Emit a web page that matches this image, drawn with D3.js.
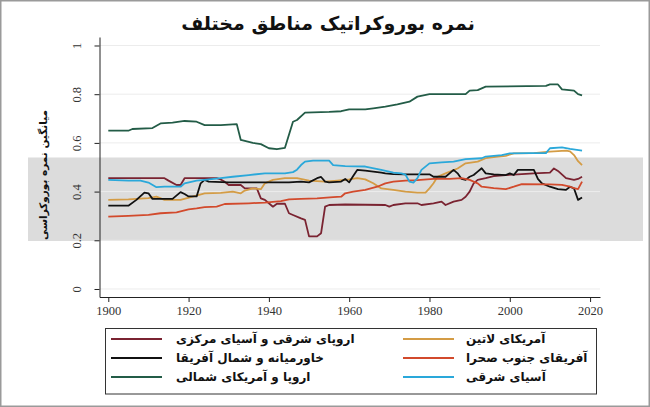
<!DOCTYPE html>
<html>
<head>
<meta charset="utf-8">
<script src="https://cdn.jsdelivr.net/npm/d3@7"></script>
<style>
  html, body { margin: 0; padding: 0; background: #fff; }
  svg { display: block; }
</style>
</head>
<body>
<svg id="chart" width="650" height="407"></svg>
<script>
// ---------- DATA ----------
const titleText = "نمره بوروکراتیک مناطق مختلف";
const yTitle = "میانگین نمره بوروکراسی";
const yTicks = [0, 0.2, 0.4, 0.6, 0.8, 1];
const yTickLabels = ["0", "0.2", "0.4", "0.6", "0.8", "1"];
const xTicks = [1900, 1920, 1940, 1960, 1980, 2000, 2020];
const xTickLabels = ["1900", "1920", "1940", "1960", "1980", "2000", "2020"];

const seriesNames = [
  "اروپای شرقی و آسیای مرکزی",
  "آمریکای لاتین",
  "خاورمیانه و شمال آفریقا",
  "آفریقای جنوب صحرا",
  "اروپا و آمریکای شمالی",
  "آسیای شرقی"
];
const seriesColors = ["#7a2331", "#d49c45", "#111111", "#d24a2c", "#235c47", "#2aa8da"];

const easternEurope = [[1900,.455],[1914,.455],[1915,.445],[1917,.427],[1918,.427],[1919,.455],[1927,.455],[1928,.45],[1929,.44],[1930,.427],[1933,.427],[1934,.413],[1937,.413],[1938,.372],[1939,.366],[1940,.352],[1941,.338],[1942,.350],[1944,.350],[1945,.311],[1946,.304],[1948,.29],[1949,.284],[1950,.216],[1952,.216],[1953,.229],[1954,.338],[1955,.345],[1959,.347],[1969,.345],[1970,.338],[1971,.345],[1974,.352],[1977,.352],[1978,.345],[1981,.352],[1983,.359],[1984,.345],[1986,.359],[1988,.366],[1989,.379],[1990,.40],[1991,.434],[1992,.448],[1994,.455],[1996,.464],[1999,.468],[2002,.471],[2006,.475],[2010,.478],[2011,.495],[2012,.485],[2014,.455],[2016,.448],[2017,.452],[2018,.461]];
const latinAmerica = [[1900,.366],[1905,.368],[1910,.373],[1912,.379],[1914,.366],[1918,.366],[1921,.379],[1924,.393],[1928,.395],[1931,.40],[1933,.393],[1934,.404],[1936,.413],[1938,.41],[1939,.434],[1941,.448],[1944,.455],[1947,.455],[1950,.445],[1954,.441],[1957,.445],[1960,.45],[1962,.455],[1964,.45],[1966,.434],[1968,.413],[1971,.407],[1974,.40],[1977,.396],[1979,.396],[1980,.413],[1981,.434],[1982,.461],[1984,.475],[1987,.495],[1989,.516],[1992,.523],[1994,.537],[1996,.542],[1999,.547],[2001,.557],[2006,.558],[2010,.564],[2014,.568],[2015,.565],[2016,.55],[2017,.525],[2018,.509]];
const middleEast = [[1900,.342],[1905,.342],[1907,.366],[1909,.396],[1910,.393],[1911,.370],[1916,.370],[1918,.398],[1919,.39],[1920,.38],[1922,.38],[1923,.434],[1924,.448],[1925,.441],[1930,.438],[1935,.438],[1940,.438],[1945,.438],[1948,.441],[1950,.438],[1952,.455],[1953,.46],[1954,.441],[1955,.438],[1958,.441],[1959,.452],[1960,.438],[1961,.464],[1962,.489],[1964,.486],[1966,.482],[1968,.478],[1969,.475],[1971,.472],[1974,.471],[1980,.471],[1981,.461],[1984,.461],[1985,.475],[1986,.489],[1987,.475],[1988,.452],[1989,.448],[1990,.461],[1991,.468],[1992,.482],[1993,.496],[1994,.475],[1996,.471],[1999,.468],[2000,.475],[2001,.468],[2002,.489],[2006,.489],[2007,.452],[2008,.434],[2010,.42],[2012,.41],[2014,.407],[2015,.42],[2016,.413],[2017,.366],[2018,.376]];
const subSaharan = [[1900,.297],[1905,.30],[1910,.304],[1913,.311],[1917,.315],[1920,.327],[1922,.331],[1924,.336],[1927,.338],[1929,.349],[1935,.352],[1939,.355],[1943,.361],[1945,.368],[1948,.370],[1952,.372],[1956,.377],[1958,.379],[1959,.393],[1961,.40],[1964,.407],[1967,.42],[1969,.434],[1971,.441],[1974,.445],[1977,.447],[1981,.452],[1985,.452],[1988,.455],[1990,.448],[1992,.434],[1993,.42],[1996,.414],[1999,.41],[2001,.42],[2003,.431],[2010,.43],[2013,.428],[2015,.42],[2016,.414],[2017,.41],[2018,.441]];
const europeNA = [[1900,.650],[1905,.650],[1906,.657],[1911,.661],[1913,.680],[1916,.683],[1919,.690],[1922,.687],[1924,.673],[1928,.673],[1932,.677],[1933,.612],[1936,.600],[1938,.595],[1940,.578],[1942,.574],[1944,.580],[1946,.687],[1947,.694],[1949,.724],[1955,.727],[1958,.730],[1960,.738],[1964,.738],[1966,.742],[1969,.749],[1972,.758],[1975,.769],[1977,.790],[1980,.800],[1989,.800],[1990,.815],[1992,.817],[1994,.831],[2009,.834],[2010,.840],[2012,.840],[2013,.820],[2016,.815],[2017,.800],[2018,.795]];
const eastAsia = [[1900,.448],[1905,.445],[1908,.445],[1910,.437],[1912,.418],[1914,.42],[1918,.42],[1919,.434],[1922,.445],[1924,.448],[1928,.455],[1931,.461],[1935,.468],[1939,.475],[1944,.475],[1946,.48],[1947,.49],[1948,.509],[1949,.523],[1951,.527],[1955,.527],[1956,.509],[1959,.505],[1964,.503],[1968,.489],[1971,.478],[1973,.475],[1974,.47],[1975,.441],[1976,.437],[1977,.455],[1978,.489],[1980,.516],[1983,.52],[1986,.523],[1989,.533],[1993,.537],[1994,.544],[1998,.55],[2000,.557],[2005,.558],[2009,.558],[2010,.578],[2013,.582],[2015,.575],[2018,.568]];

const allSeries = [easternEurope, latinAmerica, middleEast, subSaharan, europeNA, eastAsia];

// ---------- DRAW ----------
const svg = d3.select("#chart");
const W = 650, H = 407;
const persianFont = "'DejaVu Sans', 'Noto Sans', sans-serif";
const numFont = "'Liberation Serif', 'DejaVu Serif', serif";

// watermark band
svg.append("rect").attr("x", 28).attr("y", 157.5).attr("width", 615).attr("height", 83.5)
  .attr("fill", "#dcdcdc");

const x = d3.scaleLinear().domain([1897.81, 2022.47]).range([99.5, 600]);
const y = d3.scaleLinear().domain([-0.0329, 1.0349]).range([297, 37]);

// gridlines
svg.append("g").selectAll("line").data(yTicks).join("line")
  .attr("x1", 100).attr("x2", 600)
  .attr("y1", d => y(d)).attr("y2", d => y(d))
  .attr("stroke", "#ececec").attr("stroke-width", 1);

// y axis
const yAxis = svg.append("g").attr("transform", "translate(99.5,0)")
  .call(d3.axisLeft(y).tickValues(yTicks).tickSize(5).tickSizeOuter(0)
    .tickFormat((d, i) => yTickLabels[i]));
yAxis.select(".domain").attr("stroke", "#222");
yAxis.selectAll(".tick line").attr("stroke", "#222");
yAxis.selectAll(".tick text")
  .attr("x", null).attr("dy", null)
  .attr("transform", "translate(-19,0) rotate(-90)")
  .attr("text-anchor", "middle")
  .attr("font-family", numFont).attr("font-size", 12.5).attr("fill", "#333");

// x axis
const xAxis = svg.append("g").attr("transform", "translate(0,297)")
  .call(d3.axisBottom(x).tickValues(xTicks).tickSize(5).tickSizeOuter(0)
    .tickFormat((d, i) => xTickLabels[i]));
xAxis.select(".domain").attr("stroke", "#222");
xAxis.selectAll(".tick line").attr("stroke", "#222");
xAxis.selectAll(".tick text")
  .attr("y", 9).attr("dy", "0.71em")
  .attr("font-family", numFont).attr("font-size", 12.5).attr("fill", "#333");

// lines
const line = d3.line().x(d => x(d[0])).y(d => y(d[1])).curve(d3.curveLinear);
svg.append("g").selectAll("path").data(allSeries).join("path")
  .attr("d", line)
  .attr("fill", "none")
  .attr("stroke", (d, i) => seriesColors[i])
  .attr("stroke-width", 1.8)
  .attr("stroke-linejoin", "round");

// title
svg.append("text").attr("x", 328).attr("y", 30)
  .attr("text-anchor", "middle")
  .attr("font-family", persianFont).attr("font-weight", "bold")
  .attr("font-size", 19).attr("fill", "#111")
  .text(titleText);

// y title
svg.append("text")
  .attr("transform", "translate(47,175) rotate(-90)")
  .attr("text-anchor", "middle")
  .attr("font-family", persianFont).attr("font-weight", "bold")
  .attr("font-size", 10.5).attr("fill", "#111")
  .text(yTitle);

// legend
const lg = svg.append("g");
lg.append("rect").attr("x", 105.5).attr("y", 328.5).attr("width", 491).attr("height", 65.5)
  .attr("fill", "#fff").attr("stroke", "#333").attr("stroke-width", 1);
const rowsY = [339, 358, 377];
const colLineX = [111, 403];
const colTextX = [176, 466];
seriesNames.forEach((name, i) => {
  const col = i % 2, row = Math.floor(i / 2);
  lg.append("line")
    .attr("x1", colLineX[col]).attr("x2", colLineX[col] + 51)
    .attr("y1", rowsY[row]).attr("y2", rowsY[row])
    .attr("stroke", seriesColors[i]).attr("stroke-width", 2);
  lg.append("text")
    .attr("x", colTextX[col]).attr("y", rowsY[row])
    .attr("dy", "0.35em")
    .attr("text-anchor", "start")
    .attr("font-family", persianFont).attr("font-weight", "bold")
    .attr("font-size", 12).attr("fill", "#111")
    .text(name);
});

// outer border
svg.append("rect").attr("x", 0.75).attr("y", 0.75).attr("width", W - 1.5).attr("height", H - 1.5)
  .attr("fill", "none").attr("stroke", "#9a9a9a").attr("stroke-width", 1.5);
</script>
</body>
</html>
